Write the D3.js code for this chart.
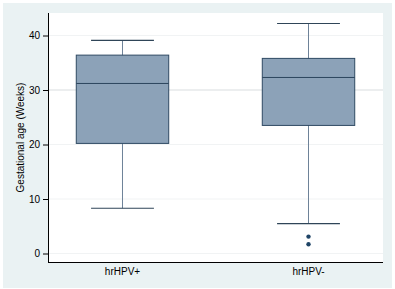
<!DOCTYPE html>
<html>
<head>
<meta charset="utf-8">
<script src="https://cdn.jsdelivr.net/npm/d3@7"></script>
<style>
  body { margin: 0; background: #fff; }
  text { font-family: "Liberation Sans", Arial, sans-serif; }
</style>
</head>
<body>
<div id="chart"></div>
<script>
// data
var groups = ["hrHPV+", "hrHPV-"];
var lowerWhisker = [8.3, 5.5];
var q1 = [20.2, 23.5];
var medians = [31.2, 32.3];
var q3 = [36.4, 35.8];
var upperWhisker = [39.1, 42.2];
var outliers = [[], [3.1, 1.7]];
var yTicks = [0, 10, 20, 30, 40];

var W = 395, H = 289;
var margin = {top: 13, right: 12, bottom: 27, left: 48},
    width = W - margin.left - margin.right,
    height = H - margin.top - margin.bottom;

var svg = d3.select("#chart")
  .append("svg")
    .attr("width", W)
    .attr("height", H);

// graph region (light blue) and plot region (white)
svg.append("rect")
  .attr("x", 3).attr("y", 3)
  .attr("width", W - 6).attr("height", H - 4)
  .attr("fill", "#eaf2f3");

var g = svg.append("g")
  .attr("transform", "translate(" + margin.left + "," + margin.top + ")");

g.append("rect")
  .attr("width", width).attr("height", height)
  .attr("fill", "#ffffff");

var x = d3.scaleBand()
  .domain(groups)
  .range([0, width])
  .paddingInner(0.503)
  .paddingOuter(0.152);

var y = d3.scaleLinear()
  .domain([0, 40])
  .range([240.5, 22.5]);

// grid lines
g.append("g")
  .selectAll("line")
  .data(yTicks)
  .enter().append("line")
    .attr("x1", 0).attr("x2", width)
    .attr("y1", function(d) { return y(d); })
    .attr("y2", function(d) { return y(d); })
    .attr("stroke", function(d) { return d == 30 ? "#e6e9ea" : "#f1f3f4"; })
    .attr("stroke-width", function(d) { return d == 30 ? 1.5 : 1; });

// y axis
var yAxis = g.append("g")
  .call(d3.axisLeft(y).tickValues(yTicks).tickSize(5).tickPadding(3).tickSizeOuter(0));
yAxis.select(".domain").attr("d", "M0.5,0V" + height).attr("stroke", "#000");
yAxis.selectAll(".tick line").attr("stroke", "#000");
yAxis.selectAll("text").style("font-size", "10px").attr("fill", "#000");

// x axis
var xAxis = g.append("g")
  .attr("transform", "translate(0," + height + ")")
  .call(d3.axisBottom(x).tickSize(0).tickPadding(6));
xAxis.select(".domain").attr("d", "M0,0.5H" + width).attr("stroke", "#000");
xAxis.selectAll("text").style("font-size", "10px").attr("fill", "#000");

// y label
svg.append("text")
  .attr("transform", "rotate(-90)")
  .attr("x", -(margin.top + height / 2))
  .attr("y", 24)
  .attr("text-anchor", "middle")
  .style("font-size", "10px")
  .text("Gestational age (Weeks)");

// boxes
var bw = x.bandwidth();
var capW = bw * 0.68;
var boxes = g.selectAll(".box")
  .data(groups)
  .enter().append("g")
    .attr("class", "box")
    .attr("transform", function(d) { return "translate(" + x(d) + ",0)"; });

boxes.append("line")
  .attr("x1", bw / 2).attr("x2", bw / 2)
  .attr("y1", function(d, i) { return y(upperWhisker[i]); })
  .attr("y2", function(d, i) { return y(lowerWhisker[i]); })
  .attr("stroke", "#6e8298").attr("stroke-width", 1);

boxes.append("rect")
  .attr("x", 0)
  .attr("width", bw)
  .attr("y", function(d, i) { return y(q3[i]); })
  .attr("height", function(d, i) { return y(q1[i]) - y(q3[i]); })
  .attr("fill", "#8ca2b8")
  .attr("stroke", "#2f4a63").attr("stroke-width", 1);

boxes.append("line")
  .attr("x1", 0).attr("x2", bw)
  .attr("y1", function(d, i) { return y(medians[i]); })
  .attr("y2", function(d, i) { return y(medians[i]); })
  .attr("stroke", "#2b445c").attr("stroke-width", 1);

[upperWhisker, lowerWhisker].forEach(function(arr) {
  boxes.append("line")
    .attr("x1", (bw - capW) / 2).attr("x2", (bw + capW) / 2)
    .attr("y1", function(d, i) { return y(arr[i]); })
    .attr("y2", function(d, i) { return y(arr[i]); })
    .attr("stroke", "#2f4558").attr("stroke-width", 1.2);
});

boxes.selectAll("circle")
  .data(function(d, i) { return outliers[i]; })
  .enter().append("circle")
    .attr("cx", bw / 2)
    .attr("cy", function(d) { return y(d); })
    .attr("r", 2.2)
    .attr("fill", "#1f4466");
</script>
</body>
</html>
